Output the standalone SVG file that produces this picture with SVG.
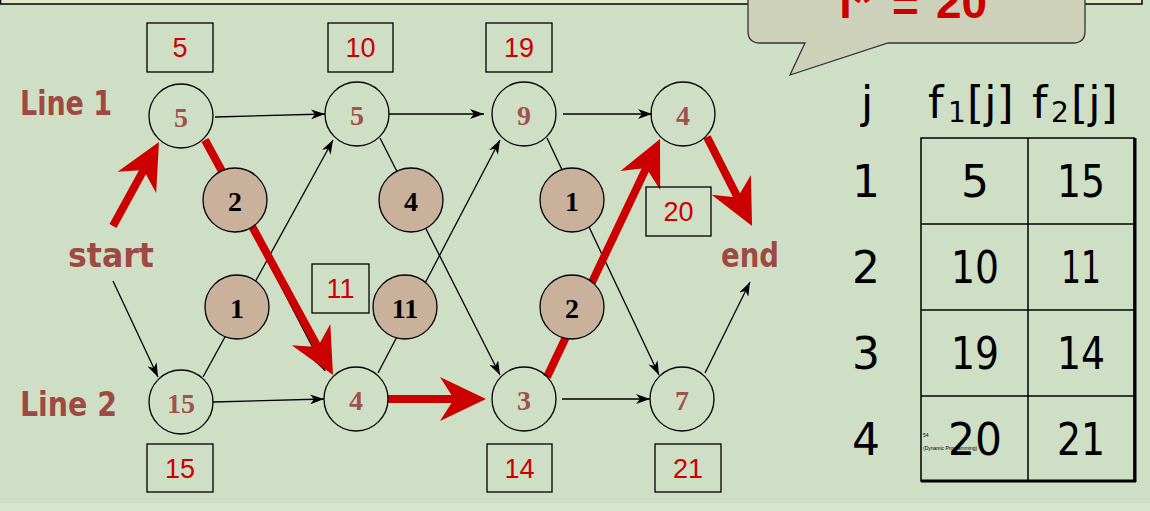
<svg xmlns="http://www.w3.org/2000/svg" width="1150" height="511" viewBox="0 0 1150 511">
<defs>
<style>
.st{fill:none;stroke:#000;stroke-width:1.3}
.tr{fill:#c9b19b;stroke:#000;stroke-width:1.3}
.nt{font-family:"Liberation Serif",serif;font-weight:bold;font-size:28px;fill:#a0524c;text-anchor:middle}
.tt{font-family:"Liberation Serif",serif;font-weight:bold;font-size:28px;fill:#000;text-anchor:middle}
.bx{fill:none;stroke:#000;stroke-width:1.3}
.bt{font-family:"Liberation Sans",Arial,sans-serif;font-size:27px;fill:#cc0000;text-anchor:middle}
.lb{font-family:"DejaVu Sans",sans-serif;font-size:34px;font-weight:bold;fill:#9e4a43}
.tb{font-family:"DejaVu Sans",sans-serif;font-size:44px;fill:#000;text-anchor:middle}
.bl{fill:none;stroke:#000;stroke-width:1.3;marker-end:url(#ab)}
.rd{fill:none;stroke:#cc0000;stroke-width:8;marker-end:url(#ar)}
</style>
<marker id="ab" viewBox="0 0 14 10" markerWidth="14" markerHeight="10" markerUnits="userSpaceOnUse" refX="14" refY="5" orient="auto">
<path d="M0,0 L14,5 L0,10 L4,5 z" fill="#000"/>
</marker>
<marker id="ar" viewBox="0 0 46 46" markerWidth="46" markerHeight="46" markerUnits="userSpaceOnUse" refX="14" refY="23" orient="auto">
<path d="M0,1 L46,23 L0,45 L14,23 z" fill="#cc0000"/>
</marker>
</defs>
<rect x="0" y="0" width="1150" height="511" fill="#cfdfc5"/>
<rect x="0" y="503" width="1150" height="8" fill="#d7e5cf"/>
<rect x="0.5" y="-10" width="1141.5" height="14" fill="#e0eac4" stroke="#000" stroke-width="1.5"/>
<g id="callout">
<path d="M748,-20 L1085,-20 L1085,31 Q1085,43 1073,43 L888,43 L790,75 L805,43 L760,43 Q748,43 748,31 Z" fill="#cdd1b9" stroke="#333" stroke-width="1.3"/>
<text font-family="Liberation Sans,Arial,sans-serif" font-weight="bold" font-size="46" fill="#cc0000" y="18"><tspan x="838">f*</tspan><tspan x="892" y="21">=</tspan><tspan x="936" y="18">20</tspan></text>
</g>
<g id="connectors">
<line class="bl" x1="215" y1="117" x2="325" y2="114"/>
<line class="bl" x1="389" y1="114" x2="484" y2="114"/>
<line class="bl" x1="563" y1="114" x2="652" y2="114"/>
<line class="bl" x1="213" y1="402" x2="324" y2="399"/>
<line class="bl" x1="388" y1="399" x2="484" y2="399"/>
<line class="bl" x1="562" y1="399" x2="650" y2="399"/>
<line class="bl" x1="113" y1="281" x2="158" y2="377"/>
<line class="bl" x1="203" y1="377" x2="333" y2="140"/>
<line class="bl" x1="380" y1="138" x2="500" y2="375"/>
<line class="bl" x1="378" y1="373" x2="500" y2="140"/>
<line class="bl" x1="547" y1="138" x2="659" y2="375"/>
<line class="bl" x1="705" y1="373" x2="750" y2="282"/>
<line class="bl" x1="205" y1="140" x2="325" y2="371"/>
<line class="rd" x1="113" y1="226" x2="143.6" y2="170.1"/>
<line class="rd" x1="205" y1="140" x2="317.7" y2="346.9"/>
<line class="rd" x1="388" y1="399" x2="454" y2="399"/>
<line class="rd" x1="547" y1="377" x2="646.3" y2="167.9"/>
<line class="rd" x1="707" y1="137" x2="737.6" y2="197.4"/>
</g>
<g id="n-l1s1"><circle class="st" cx="181" cy="116" r="32"/><text class="nt" x="181" y="127">5</text></g>
<g id="n-l1s2"><circle class="st" cx="357" cy="114" r="32"/><text class="nt" x="357" y="125">5</text></g>
<g id="n-l1s3"><circle class="st" cx="524" cy="114" r="32"/><text class="nt" x="524" y="125">9</text></g>
<g id="n-l1s4"><circle class="st" cx="683" cy="114" r="32"/><text class="nt" x="683" y="125">4</text></g>
<g id="n-l2s1"><circle class="st" cx="181" cy="402" r="32"/><text class="nt" x="181" y="413">15</text></g>
<g id="n-l2s2"><circle class="st" cx="356" cy="399" r="32"/><text class="nt" x="356" y="410">4</text></g>
<g id="n-l2s3"><circle class="st" cx="524" cy="399" r="32"/><text class="nt" x="524" y="410">3</text></g>
<g id="n-l2s4"><circle class="st" cx="682" cy="399" r="32"/><text class="nt" x="682" y="410">7</text></g>
<g id="t-12a"><circle class="tr" cx="235" cy="200" r="32"/><text class="tt" x="235" y="211">2</text></g>
<g id="t-21a"><circle class="tr" cx="237" cy="307" r="32"/><text class="tt" x="237" y="318">1</text></g>
<g id="t-12b"><circle class="tr" cx="411" cy="200" r="32"/><text class="tt" x="411" y="211">4</text></g>
<g id="t-21b"><circle class="tr" cx="405" cy="307" r="32"/><text class="tt" x="405" y="318">11</text></g>
<g id="t-12c"><circle class="tr" cx="572" cy="200" r="32"/><text class="tt" x="572" y="211">1</text></g>
<g id="t-21c"><circle class="tr" cx="572" cy="307" r="32"/><text class="tt" x="572" y="318">2</text></g>
<g id="b-5"><rect class="bx" x="147" y="23" width="66" height="49"/><text class="bt" x="180" y="57">5</text></g>
<g id="b-10"><rect class="bx" x="328" y="23" width="65" height="49"/><text class="bt" x="360.5" y="57">10</text></g>
<g id="b-19"><rect class="bx" x="486" y="23" width="66" height="49"/><text class="bt" x="519" y="57">19</text></g>
<g id="b-11"><rect class="bx" x="312" y="264" width="57" height="49"/><text class="bt" x="340.5" y="298">11</text></g>
<g id="b-20"><rect class="bx" x="646" y="187" width="65" height="49"/><text class="bt" x="678.5" y="221">20</text></g>
<g id="b-15"><rect class="bx" x="147" y="444" width="66" height="48"/><text class="bt" x="180" y="478">15</text></g>
<g id="b-14"><rect class="bx" x="487" y="444" width="65" height="48"/><text class="bt" x="519.5" y="478">14</text></g>
<g id="b-21"><rect class="bx" x="655" y="444" width="66" height="48"/><text class="bt" x="688" y="478">21</text></g>
<g id="labels">
<text class="lb" x="20" y="115" textLength="92" lengthAdjust="spacingAndGlyphs">Line 1</text>
<text class="lb" x="20" y="416" textLength="97" lengthAdjust="spacingAndGlyphs">Line 2</text>
<text class="lb" x="68" y="267" textLength="86" lengthAdjust="spacingAndGlyphs">start</text>
<text class="lb" x="721" y="267" textLength="58" lengthAdjust="spacingAndGlyphs">end</text>
</g>
<g id="table">
<text class="tb" x="867" y="118">j</text>
<text class="tb" style="text-anchor:start" y="118"><tspan x="928">f</tspan><tspan x="948" dy="4" font-size="28">1</tspan><tspan x="967" dy="-4">[j]</tspan></text>
<text class="tb" style="text-anchor:start" y="118"><tspan x="1032">f</tspan><tspan x="1051" dy="4" font-size="28">2</tspan><tspan x="1071" dy="-4">[j]</tspan></text>
<g fill="none" stroke="#000" stroke-width="1.5">
<rect x="921" y="138" width="213" height="343"/>
<line x1="1028" y1="138" x2="1028" y2="481"/>
<line x1="921" y1="224" x2="1134" y2="224"/>
<line x1="921" y1="310" x2="1134" y2="310"/>
<line x1="921" y1="396" x2="1134" y2="396"/>
</g>
<line x1="1135" y1="138" x2="1135" y2="482" stroke="#000" stroke-width="3"/>
<line x1="921" y1="481" x2="1136" y2="481" stroke="#000" stroke-width="3"/>
<text class="tb" x="866" y="197">1</text>
<text class="tb" x="866" y="283">2</text>
<text class="tb" x="866" y="369">3</text>
<text class="tb" x="866" y="455">4</text>
<text class="tb" x="975" y="197">5</text>
<text class="tb" x="1081" y="197" textLength="48" lengthAdjust="spacingAndGlyphs">15</text>
<text class="tb" x="975" y="283" textLength="48" lengthAdjust="spacingAndGlyphs">10</text>
<text class="tb" x="1081" y="283" textLength="40" lengthAdjust="spacingAndGlyphs">11</text>
<text class="tb" x="975" y="369" textLength="48" lengthAdjust="spacingAndGlyphs">19</text>
<text class="tb" x="1081" y="369" textLength="48" lengthAdjust="spacingAndGlyphs">14</text>
<text x="923" y="437" font-family="Liberation Sans,Arial,sans-serif" font-size="5" fill="#000">54</text>
<text x="923" y="450" font-family="Liberation Sans,Arial,sans-serif" font-size="5" fill="#000">(Dynamic Programming)</text>
<text class="tb" x="975" y="455" textLength="54" lengthAdjust="spacingAndGlyphs">20</text>
<text class="tb" x="1081" y="455" textLength="48" lengthAdjust="spacingAndGlyphs">21</text>
</g>
</svg>
